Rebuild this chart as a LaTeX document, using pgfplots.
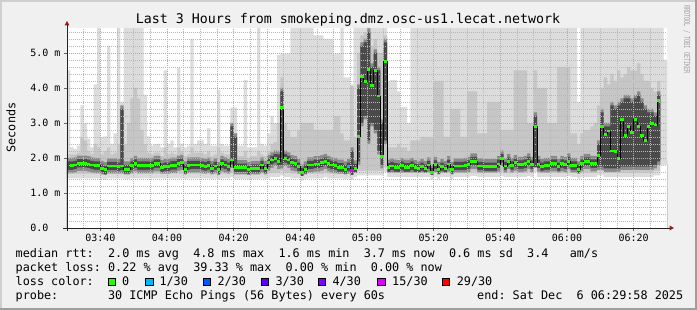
\documentclass[border=0pt]{standalone}
\usepackage{fontspec}
\setmainfont{DejaVu Sans Mono}
\usepackage{pgfplots}
\pgfplotsset{compat=1.18}
\usepackage{pgfplotstable}
\definecolor{bgc}{HTML}{F0F0F0}
\definecolor{shA}{HTML}{CFCFCF}
\definecolor{shB}{HTML}{9E9E9E}
\definecolor{cL}{HTML}{DCDCDC}
\definecolor{cM}{HTML}{C6C6C6}
\definecolor{cG}{HTML}{8A8A8A}
\definecolor{cD}{HTML}{4A4A4A}
\definecolor{mgrid}{HTML}{F09090}
\definecolor{mngrid}{HTML}{B8B8B8}
\definecolor{axc}{HTML}{222222}
\definecolor{arrc}{HTML}{8F1F1F}
\definecolor{wmc}{HTML}{A0A0A0}
\definecolor{l0}{HTML}{26FF00}
\definecolor{l1}{HTML}{00B8FF}
\definecolor{l2}{HTML}{0059FF}
\definecolor{l3}{HTML}{5E00FF}
\definecolor{l4}{HTML}{7E00FF}
\definecolor{l15}{HTML}{DD00FF}
\definecolor{l29}{HTML}{FF0000}

\pgfplotstableread{
m med top mid dk dlo lo
0 1.78 4.50 2.10 1.90 1.66 1.42
1 1.78 2.30 2.10 1.90 1.66 1.42
2 1.80 2.25 2.10 1.92 1.68 1.42
3 1.85 2.35 2.15 1.97 1.73 1.42
4 1.85 3.50 2.60 1.97 1.73 1.42
5 1.85 3.00 2.50 1.97 1.73 1.42
6 1.83 2.55 2.20 1.95 1.71 1.42
7 1.80 2.30 2.12 1.92 1.68 1.42
8 1.78 4.10 2.40 1.90 1.66 1.42
9 1.78 5.72 2.30 1.90 1.66 1.42
10 1.70 2.60 2.10 1.82 1.58 1.40
11 1.66 2.62 2.20 1.78 1.54 1.38
12 1.77 5.20 2.30 1.89 1.65 1.42
13 1.77 2.40 2.10 1.89 1.65 1.42
14 1.77 2.70 2.15 1.89 1.65 1.42
15 1.75 5.72 2.40 1.87 1.63 1.42
16 1.77 3.60 3.45 3.40 1.65 1.42
17 1.68 5.72 2.40 1.80 1.56 1.40
18 1.68 5.72 3.00 1.80 1.56 1.40
19 1.78 5.72 3.70 1.90 1.66 1.42
20 1.84 5.72 4.00 1.96 1.72 1.42
21 1.78 5.72 3.70 1.90 1.66 1.42
22 1.78 5.72 2.80 1.90 1.66 1.42
23 1.78 3.80 2.40 1.90 1.66 1.42
24 1.78 2.62 2.15 1.90 1.66 1.42
25 1.78 2.35 2.10 1.90 1.66 1.42
26 1.84 2.40 2.15 1.96 1.72 1.42
27 1.84 2.40 2.15 1.96 1.72 1.42
28 1.72 2.30 2.05 1.84 1.60 1.42
29 1.75 4.50 2.30 1.87 1.63 1.42
30 1.75 2.40 2.10 1.87 1.63 1.42
31 1.79 2.50 2.15 1.91 1.67 1.42
32 1.79 2.30 2.10 1.91 1.67 1.42
33 1.85 4.57 2.30 1.97 1.73 1.42
34 1.87 2.40 2.20 1.99 1.75 1.42
35 1.68 2.30 2.05 1.80 1.56 1.40
36 1.79 2.35 2.10 1.91 1.67 1.42
37 1.80 5.40 2.30 1.92 1.68 1.42
38 1.80 2.40 2.15 1.92 1.68 1.42
39 1.80 2.50 2.15 1.92 1.68 1.42
40 1.78 2.50 2.15 1.90 1.66 1.42
41 1.76 2.40 2.10 1.88 1.64 1.42
42 1.79 2.85 2.20 1.91 1.67 1.42
43 1.70 2.35 2.05 1.82 1.58 1.40
44 1.77 2.35 2.10 1.89 1.65 1.42
45 1.66 3.94 2.30 1.78 1.54 1.38
46 1.84 2.40 2.15 1.96 1.72 1.42
47 1.80 2.35 2.10 1.92 1.68 1.42
48 1.75 2.35 2.10 1.87 1.63 1.42
49 1.94 3.44 3.00 2.90 1.82 1.45
50 1.72 3.44 2.70 2.60 1.60 1.40
51 1.72 2.35 2.05 1.84 1.60 1.40
52 1.72 2.35 2.05 1.84 1.60 1.40
53 1.72 4.23 2.20 1.84 1.60 1.40
54 1.66 2.30 2.00 1.78 1.54 1.38
55 1.70 2.30 2.05 1.82 1.58 1.40
56 1.70 2.30 2.05 1.82 1.58 1.40
57 1.70 5.72 2.20 1.82 1.58 1.40
58 1.80 2.40 2.10 1.92 1.68 1.42
59 1.70 2.35 2.05 1.82 1.58 1.40
60 1.86 2.70 2.20 1.98 1.74 1.42
61 1.94 3.20 2.40 2.06 1.82 1.45
62 1.99 3.00 2.45 2.11 1.87 1.45
63 1.90 4.94 3.00 2.10 1.78 1.45
64 3.45 5.00 4.30 3.90 1.80 1.50
65 1.99 4.98 3.00 2.11 1.87 1.45
66 1.94 4.98 2.80 2.06 1.82 1.45
67 1.86 5.72 2.60 1.98 1.74 1.42
68 1.84 5.72 2.60 1.96 1.72 1.42
69 1.75 5.72 2.80 1.87 1.63 1.42
70 1.59 5.72 3.00 1.71 1.47 1.35
71 1.68 5.72 3.00 1.80 1.56 1.40
72 1.80 5.72 3.00 1.92 1.68 1.42
73 1.80 5.72 3.00 1.92 1.68 1.42
74 1.83 5.50 2.80 1.95 1.71 1.42
75 1.83 5.50 2.80 1.95 1.71 1.42
76 1.86 5.50 2.80 1.98 1.74 1.42
77 1.90 5.40 2.80 2.02 1.78 1.45
78 1.84 5.40 2.80 1.96 1.72 1.42
79 1.80 5.40 2.80 1.92 1.68 1.42
80 1.78 4.98 3.20 1.90 1.66 1.42
81 1.73 4.98 3.20 1.85 1.61 1.42
82 1.73 5.72 2.70 1.85 1.61 1.42
83 1.68 4.30 2.50 1.80 1.56 1.40
84 1.75 4.30 2.50 1.87 1.63 1.42
85 1.64 4.10 4.05 2.20 1.52 1.38
86 1.70 5.72 2.60 1.83 1.58 1.45
87 2.61 5.72 5.00 4.00 1.90 1.50
88 4.32 5.72 5.50 5.20 3.00 1.50
89 4.18 5.72 5.60 5.30 3.20 1.50
90 4.53 5.72 5.72 5.60 2.50 1.50
91 4.06 5.72 5.20 4.60 3.00 1.50
92 4.51 5.72 5.40 5.00 2.80 1.50
93 3.77 5.72 5.00 4.50 2.20 1.50
94 2.04 5.72 5.00 3.00 1.80 1.50
95 4.75 5.72 5.50 5.30 2.50 1.60
96 1.72 4.20 2.30 1.85 1.60 1.45
97 1.77 4.23 2.30 1.89 1.65 1.45
98 1.73 4.23 2.30 1.85 1.61 1.45
99 1.72 3.90 2.40 1.84 1.60 1.45
100 1.78 3.45 2.30 1.90 1.66 1.45
101 1.73 3.45 2.30 1.85 1.61 1.45
102 1.73 3.00 2.20 1.85 1.61 1.45
103 1.78 5.72 2.50 1.90 1.66 1.45
104 1.72 5.72 2.50 1.84 1.60 1.45
105 1.70 5.72 2.50 1.82 1.58 1.45
106 1.75 5.72 2.60 1.87 1.63 1.45
107 1.70 5.72 2.60 1.82 1.58 1.45
108 1.80 5.72 2.60 1.92 1.68 1.45
109 1.59 5.72 2.60 1.71 1.47 1.38
110 1.81 5.72 4.20 1.93 1.69 1.45
111 1.67 5.72 4.20 1.79 1.55 1.40
112 1.75 5.72 4.20 1.87 1.63 1.45
113 1.70 5.72 2.60 1.82 1.58 1.45
114 1.83 5.72 2.60 1.95 1.71 1.45
115 1.67 5.72 3.40 1.79 1.55 1.40
116 1.77 5.72 3.40 1.89 1.65 1.45
117 1.77 5.72 3.40 1.89 1.65 1.45
118 1.77 5.72 2.60 1.89 1.65 1.45
119 1.78 5.72 2.60 1.90 1.66 1.45
120 1.81 5.72 3.90 1.93 1.69 1.45
121 1.91 5.72 3.90 2.03 1.79 1.48
122 1.91 5.72 3.90 2.03 1.79 1.48
123 1.77 5.72 2.70 1.89 1.65 1.45
124 1.77 5.72 2.70 1.89 1.65 1.45
125 1.75 5.72 2.70 1.87 1.63 1.45
126 1.75 5.72 3.60 1.87 1.63 1.45
127 1.75 5.72 3.60 1.87 1.63 1.45
128 1.75 5.72 3.60 1.87 1.63 1.45
129 1.83 5.72 3.60 1.95 1.71 1.45
130 1.99 5.72 2.80 2.11 1.87 1.48
131 1.77 5.72 2.80 1.89 1.65 1.45
132 1.90 5.72 2.80 2.02 1.78 1.45
133 1.78 5.72 2.80 1.90 1.66 1.45
134 1.86 5.72 4.50 1.98 1.74 1.45
135 1.81 5.72 4.50 1.93 1.69 1.45
136 1.81 5.72 4.50 1.93 1.69 1.45
137 1.84 5.72 4.50 1.96 1.72 1.45
138 1.91 5.72 3.00 2.03 1.79 1.48
139 1.81 5.72 3.00 1.93 1.69 1.45
140 2.89 5.72 4.50 3.20 1.70 1.60
141 1.83 5.72 4.00 1.95 1.71 1.45
142 1.75 5.72 4.00 1.87 1.63 1.45
143 1.78 5.72 4.00 1.90 1.66 1.45
144 1.78 5.72 3.00 1.90 1.66 1.45
145 1.84 5.72 3.00 1.96 1.72 1.45
146 1.84 5.72 3.00 1.96 1.72 1.45
147 1.75 5.72 4.60 1.87 1.63 1.45
148 1.84 5.72 4.60 1.96 1.72 1.45
149 1.81 5.72 4.60 1.93 1.69 1.45
150 1.91 5.72 4.60 2.03 1.79 1.48
151 1.78 5.72 2.70 1.90 1.66 1.45
152 1.78 5.72 2.70 1.90 1.66 1.45
153 1.68 3.60 2.40 1.80 1.56 1.42
154 1.84 5.72 2.70 1.96 1.72 1.45
155 1.90 5.72 2.80 2.02 1.78 1.45
156 1.90 5.72 2.80 2.02 1.78 1.45
157 1.84 5.72 2.90 1.96 1.72 1.45
158 1.84 5.72 3.00 1.96 1.72 1.45
159 2.06 5.72 3.50 2.40 1.75 1.50
160 2.91 5.72 4.00 3.30 1.75 1.50
161 2.68 5.72 4.30 2.90 1.70 1.45
162 2.77 5.72 4.10 2.90 1.70 1.45
163 2.20 5.72 4.40 3.50 1.70 1.45
164 2.18 5.72 4.20 3.40 1.70 1.45
165 1.99 5.72 4.50 3.50 1.70 1.45
166 3.09 5.72 4.30 3.60 1.75 1.45
167 2.64 5.72 4.40 3.70 1.75 1.45
168 2.89 5.72 4.60 3.70 1.75 1.45
169 2.72 5.72 4.50 3.60 1.75 1.45
170 3.09 5.72 4.50 3.70 1.75 1.45
171 2.91 5.72 4.70 3.80 1.75 1.45
172 2.65 5.72 4.40 3.60 1.75 1.45
173 2.49 5.72 4.20 3.40 1.75 1.45
174 2.89 5.72 4.20 3.30 1.75 1.45
175 2.99 5.72 4.00 3.30 1.75 1.45
176 2.94 5.72 3.90 3.20 1.80 1.50
177 3.64 5.72 4.20 3.80 1.90 1.50
178 nan 5.72 1.80 1.80 1.80 1.80
179 nan 4.80 1.80 1.80 1.80 1.80
180 nan 4.80 1.80 1.80 1.80 1.80
}\smoke

\pgfplotsset{rrd/.style={at={(67pt,82pt)}, anchor=south west, scale only axis,
  width=600pt, height=200pt, xmin=0, xmax=180, ymin=0, ymax=5.714}}
\newcommand\lf{\fontsize{11.8}{14}\selectfont}

\begin{document}
\frenchspacing
\begin{tikzpicture}[x=1pt,y=1pt]
\useasboundingbox (0,0) rectangle (697,310);
\fill[bgc] (0,0) rectangle (697,310);
\fill[shA] (0,0) rectangle (2,310);
\fill[shA] (0,308) rectangle (697,310);
\fill[shB] (695,0) rectangle (697,310);
\fill[shB] (0,0) rectangle (697,2);

\begin{axis}[rrd, axis on top,
  axis background/.style={fill=white},
  axis line style={draw=none},
  tick pos=left, tick align=outside,
  major tick length=3pt, minor tick length=0pt,
  tick style={draw=black!60, line width=0.6pt},
  xtick={10,30,50,70,90,110,130,150,170},
  xticklabels={03:40,04:00,04:20,04:40,05:00,05:20,05:40,06:00,06:20},
  minor xtick={5,15,20,25,35,40,45,55,60,65,75,80,85,95,100,105,115,120,125,135,140,145,155,160,165,175},
  ytick={0,1,2,3,4,5},
  yticklabels={0.0\phantom{~m},1.0~m,2.0~m,3.0~m,4.0~m,5.0~m},
  minor ytick={0.2,0.4,0.6,0.8,1.2,1.4,1.6,1.8,2.2,2.4,2.6,2.8,3.2,3.4,3.6,3.8,4.2,4.4,4.6,4.8,5.2,5.4,5.6},
  grid=both,
  major grid style={draw=mgrid, line width=0.6pt, dash pattern=on 1pt off 1pt},
  minor grid style={draw=mngrid, line width=0.6pt, dash pattern=on 1pt off 1pt},
  tick label style={font=\fontsize{10}{12}\selectfont, text=black},
]
\addplot[const plot, fill=cL, draw=none] table[x=m, y=top] {\smoke} \closedcycle;
\addplot[const plot, fill=cM, draw=none] table[x=m, y=mid] {\smoke} \closedcycle;
\addplot[const plot, fill=cG, draw=none] table[x=m, y expr=\thisrow{dk}+0.1] {\smoke} \closedcycle;
\addplot[const plot, fill=cD, draw=none] table[x=m, y=dk] {\smoke} \closedcycle;
\addplot[const plot, fill=cG, draw=none] table[x=m, y=dlo] {\smoke} \closedcycle;
\addplot[const plot, fill=cM, draw=none] table[x=m, y expr=\thisrow{dlo}-0.1] {\smoke} \closedcycle;
\addplot[const plot, fill=cL, draw=none] table[x=m, y expr=\thisrow{lo}+0.13] {\smoke} \closedcycle;
\addplot[const plot, fill=white, draw=none] table[x=m, y=lo] {\smoke} \closedcycle;
\end{axis}

\begin{axis}[rrd, hide axis]
\addplot[const plot, black, line width=0.8pt, restrict x to domain=1:177] table[x=m, y=med] {\smoke};
\addplot[only marks, mark=-, mark size=1.7pt, mark options={line width=2.8pt, draw=l0, xshift=1.667pt}, restrict x to domain=1:177] table[x=m, y=med] {\smoke};
\addplot[only marks, mark=-, mark size=1.7pt, mark options={line width=2.8pt, draw=l1, xshift=1.667pt}, restrict x to domain=83.5:84.4] table[x=m, y=med] {\smoke};
\addplot[only marks, mark=-, mark size=1.7pt, mark options={line width=2.8pt, draw=l15, xshift=1.667pt}, restrict x to domain=84.6:85.4] table[x=m, y=med] {\smoke};
\end{axis}

% axis lines and arrows
\draw[axc, line width=0.8pt] (67,79) -- (67,285);
\draw[axc, line width=0.8pt] (63,82) -- (670,82);
\fill[arrc] (64.5,284.5) -- (69.5,284.5) -- (67,289) -- cycle;
\fill[arrc] (669.5,84.5) -- (669.5,79.5) -- (674,82) -- cycle;

% titles
\node[anchor=base, inner sep=0, font=\fontsize{13.3}{16}\selectfont] at (348,286) {Last 3 Hours from smokeping.dmz.osc-us1.lecat.network};
\node[rotate=90, anchor=base, inner sep=0, font=\lf] at (15.5,182.5) {Seconds};
\node[rotate=-90, yscale=1.6, anchor=base west, inner sep=0, font=\fontsize{5.2}{6}\selectfont, text=wmc] at (684,305) {RRDTOOL / TOBI OETIKER};

% legend
\node[anchor=base west, inner sep=0, font=\lf] at (15.5,52) {median~rtt:~~2.0~ms~avg~~4.8~ms~max~~1.6~ms~min~~3.7~ms~now~~0.6~ms~sd~~3.4~~~am/s};
\node[anchor=base west, inner sep=0, font=\lf] at (15.5,38) {packet~loss:~0.22~\%~avg~~39.33~\%~max~~0.00~\%~min~~0.00~\%~now};
\node[anchor=base west, inner sep=0, font=\lf] at (15.5,24) {loss~color:};
\node[anchor=base west, inner sep=0, font=\lf] at (15.5,10) {probe:~~~~~~~30~ICMP~Echo~Pings~(56~Bytes)~every~60s};
\node[anchor=base west, inner sep=0, font=\lf] at (477,10) {end:~Sat~Dec~~6~06:29:58~2025};

\foreach \bx/\lx/\cc/\tt in {108/122/l0/0, 145.7/159.3/l1/1\slash 30, 203/217.3/l2/2\slash 30, 261/275.3/l3/3\slash 30, 318/332.3/l4/4\slash 30, 377.7/392/l15/15\slash 30, 442/456.6/l29/29\slash 30}{
  \filldraw[draw=black, line width=0.8pt, fill=\cc] (\bx,24.4) rectangle ++(7.6,7.4);
  \node[anchor=base west, inner sep=0, font=\lf] at (\lx,24) {\tt};
}
\end{tikzpicture}
\end{document}
